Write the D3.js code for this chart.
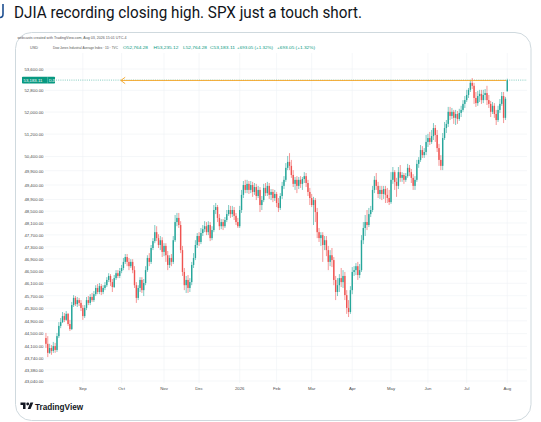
<!DOCTYPE html>
<html>
<head>
<meta charset="utf-8">
<script src="https://cdn.jsdelivr.net/npm/d3@7"></script>
<style>
  html, body { margin: 0; padding: 0; background: #fff; }
  svg { display: block; font-family: "Liberation Sans", Arial, sans-serif; }
</style>
</head>
<body>
<svg id="chart" width="541" height="422"></svg>
<script>
const opens = [
  44360,44180,43900,44050,43960,44110,43990,44420,44740,44860,
  45050,44930,45120,44800,44640,45400,45630,45430,45560,45470,
  45310,45050,45310,45560,45470,45660,45560,45750,45950,45820,
  46010,45820,45950,46040,46210,46340,46140,45980,46270,46430,
  46340,46500,46600,46800,46960,46800,46660,46800,46530,46040,
  45630,45950,46210,45880,46110,46530,46930,46800,47260,47490,
  47790,47590,47360,47520,47130,47330,47020,46700,46930,46800,
  47520,48130,48270,48030,47190,46470,46040,46210,45950,46140,
  46700,46930,47360,47660,47460,47760,47890,47990,47790,48030,
  47590,47860,48540,48640,48270,47990,48130,47990,48200,48400,
  48540,48400,48540,48340,48130,47990,48540,49060,49400,49230,
  49440,49230,49400,49160,49330,49020,49230,48710,48880,49300,
  49120,49370,49060,49160,48950,49090,48780,48610,49020,49370,
  49580,50000,50210,50070,49750,49440,49580,49370,49580,49440,
  49610,49710,49470,49160,48950,48710,48880,48470,47790,47590,
  47690,47360,47520,47190,46800,47020,46860,46210,45820,46040,
  46270,46140,46340,45720,45310,45180,45880,46470,46530,46660,
  46370,46530,47520,47930,48130,48030,48400,48540,49230,49580,
  49370,49090,49230,49090,49260,49060,48950,48810,49580,49850,
  49510,49370,49850,49650,49750,49580,49710,50000,49850,49650,
  49370,49580,50140,50280,50630,50450,50560,50920,51060,50920,
  51130,51420,51170,50700,50280,50070,51060,51420,51570,52010,
  51860,52010,51790,51930,51750,51970,52080,52300,52440,52630,
  52820,53080,52970,52520,52330,52590,52670,52440,52630,52700,
  52440,52300,52010,52230,51930,51710,52080,52300,52590,51790,
  52764.28
];
const highs = [
  44520,44420,44180,44140,44240,44210,44520,44860,44990,45180,
  45150,45210,45150,44930,45500,45720,45690,45660,45630,45560,
  45400,45400,45660,45690,45750,45790,45850,46040,46080,46110,
  46080,46040,46140,46300,46430,46400,46240,46370,46530,46530,
  46600,46700,46930,47060,47060,46930,46890,46890,46660,46140,
  46040,46300,46300,46240,46660,47020,47090,47360,47590,48030,
  47990,47720,47660,47620,47420,47420,47160,47020,47060,47660,
  48370,48440,48440,48160,47330,46600,46340,46370,46270,46800,
  47090,47520,47760,47790,47930,48030,48160,48130,48160,48130,
  47990,48710,48780,48710,48400,48230,48230,48300,48540,48710,
  48680,48680,48640,48440,48270,48680,49230,49540,49580,49580,
  49540,49540,49510,49470,49440,49370,49330,49020,49440,49470,
  49510,49470,49260,49260,49230,49160,48950,49120,49510,49710,
  50170,50420,50520,50280,49920,49680,49710,49680,49710,49680,
  49850,49820,49580,49300,49090,48990,48950,48610,47930,47790,
  47790,47660,47660,47330,47190,47260,46960,46340,46270,46400,
  46600,46530,46470,45880,45560,46010,46630,46660,46760,46800,
  46730,47690,48130,48370,48540,48610,48680,49370,49710,49820,
  49510,49370,49370,49370,49370,49300,49230,49850,50030,49920,
  49650,50030,50100,49850,49820,49820,50140,50100,49960,49780,
  49710,50280,50380,50810,50770,50700,51170,51210,51280,51350,
  51600,51530,51350,50850,50450,51240,51640,51710,52190,52190,
  52150,52080,52080,52040,52120,52230,52440,52590,52820,52890,
  53190,53260,53080,52740,52780,52820,52820,52820,52850,52970,
  52630,52410,52370,52330,52080,52230,52480,52740,52740,52560,
  53235.12
];
const lows = [
  44050,43770,43870,43840,43900,43900,43930,44360,44670,44830,
  44860,44900,44740,44580,44610,45340,45370,45340,45370,45210,
  44930,44990,45240,45400,45400,45500,45500,45690,45750,45750,
  45720,45750,45880,45980,46140,46010,45820,45950,46210,46270,
  46270,46430,46530,46730,46660,46530,46600,46430,45950,45470,
  45560,45820,45790,45690,46040,46470,46660,46730,47190,47420,
  47490,47260,47190,46960,46990,46800,46530,46600,46660,46730,
  47460,47990,47930,47090,46340,45880,45790,45790,45820,46040,
  46600,46860,47260,47330,47390,47660,47790,47690,47690,47490,
  47520,47790,48400,48130,47860,47890,47860,47930,48130,48340,
  48270,48300,48200,48030,47930,47930,48440,48950,49120,49120,
  49090,49120,48990,49060,48880,48950,48470,48540,48810,49020,
  49020,48920,48880,48810,48850,48640,48470,48540,48920,49260,
  49510,49920,49920,49650,49330,49230,49120,49260,49300,49230,
  49470,49330,49020,48710,48640,48030,48130,47590,47460,47330,
  46800,47190,46990,46530,46660,46630,46040,45560,45690,45820,
  45980,45950,45560,45120,45020,45120,45750,46340,46370,46210,
  46270,46470,47390,47660,47860,47960,48300,48470,49120,49230,
  48950,48920,48880,48920,48780,48780,48710,48750,49440,49230,
  48990,49260,49510,49510,49440,49510,49650,49710,49470,49230,
  49230,49510,50000,50210,50350,50350,50450,50740,50810,50850,
  50990,50920,50560,50070,49920,49920,50990,51240,51460,51710,
  51750,51570,51530,51570,51680,51820,52010,52150,52370,52520,
  52740,52850,52300,52190,52230,52370,52300,52330,52440,52260,
  52150,51820,51930,51790,51530,51640,51970,52230,51600,51710,
  52764.28
];
const closes = [
  44180,43900,44050,43960,44110,43990,44420,44740,44860,45050,
  44930,45120,44800,44640,45400,45630,45430,45560,45470,45310,
  45050,45310,45560,45470,45660,45560,45750,45950,45820,46010,
  45820,45950,46040,46210,46340,46140,45980,46270,46430,46340,
  46500,46600,46800,46960,46800,46660,46800,46530,46040,45630,
  45950,46210,45880,46110,46530,46930,46800,47260,47490,47790,
  47590,47360,47520,47130,47330,47020,46700,46930,46800,47520,
  48130,48270,48030,47190,46470,46040,46210,45950,46140,46700,
  46930,47360,47660,47460,47760,47890,47990,47790,48030,47590,
  47860,48540,48640,48270,47990,48130,47990,48200,48400,48540,
  48400,48540,48340,48130,47990,48540,49060,49400,49230,49440,
  49230,49400,49160,49330,49020,49230,48710,48880,49300,49120,
  49370,49060,49160,48950,49090,48780,48610,49020,49370,49580,
  50000,50210,50070,49750,49440,49580,49370,49580,49440,49610,
  49710,49470,49160,48950,48710,48880,48470,47790,47590,47690,
  47360,47520,47190,46800,47020,46860,46210,45820,46040,46270,
  46140,46340,45720,45310,45180,45880,46470,46530,46660,46370,
  46530,47520,47930,48130,48030,48400,48540,49230,49580,49370,
  49090,49230,49090,49260,49060,48950,48810,49580,49850,49510,
  49370,49850,49650,49750,49580,49710,50000,49850,49650,49370,
  49580,50140,50280,50630,50450,50560,50920,51060,50920,51130,
  51420,51170,50700,50280,50070,51060,51420,51570,52010,51860,
  52010,51790,51930,51750,51970,52080,52300,52440,52630,52820,
  53080,52970,52520,52330,52590,52670,52440,52630,52700,52440,
  52300,52010,52230,51930,51710,52080,52300,52590,51790,52490.06,
  53183.11
];

// NYSE closures in the window
const holidays = ["2025-09-01","2025-11-27","2025-12-25","2026-01-01","2026-01-19",
  "2026-02-16","2026-04-03","2026-05-25","2026-06-19","2026-07-03"];

const priceTicks = [53600,52800,52000,51200,50400,49900,49400,48900,48500,48100,47700,
  47300,46900,46500,46100,45700,45300,44900,44500,44100,43740,43380,43040];
const monthLabels = ["Sep","Oct","Nov","Dec","2026","Feb","Mar","Apr","May","Jun","Jul","Aug"];

const lastPrice = 53183.11;
const markedHigh = 53170;
const legendValues = ["O52,764.28","H53,235.12","L52,764.28","C53,183.11","+693.05 (+1.32%)","+693.05 (+1.32%)"];

const upColor = "#26a69a", downColor = "#ef5350";

const svg = d3.select("#chart");

// tweet line
svg.append("path")
  .attr("d", "M3,4 L3,14 Q3,17.5 0,17.5")
  .attr("fill", "none")
  .attr("stroke", "#1d4f91")
  .attr("stroke-width", 1.6);

svg.append("text")
  .attr("x", 14)
  .attr("y", 17.5)
  .attr("font-family", "Roboto, 'Liberation Sans', sans-serif")
  .attr("font-size", 16.5)
  .attr("fill", "#0f1419")
  .attr("textLength", 348)
  .attr("lengthAdjust", "spacingAndGlyphs")
  .text("DJIA recording closing high. SPX just a touch short.");

// card
svg.append("rect")
  .attr("x", 15.5).attr("y", 32.5)
  .attr("width", 515.5).attr("height", 388)
  .attr("rx", 16)
  .attr("fill", "#fff")
  .attr("stroke", "#cfd9de");

// snapshot header
svg.append("text")
  .attr("x", 17.5).attr("y", 38.8)
  .attr("font-size", 3.5).attr("fill", "#555")
  .attr("textLength", 109).attr("lengthAdjust", "spacingAndGlyphs")
  .text("webcasts created with TradingView.com, Aug 03, 2026 15:01 UTC-4");

svg.append("text")
  .attr("x", 30).attr("y", 48.6)
  .attr("font-size", 3.8).attr("fill", "#555")
  .text("USD");

svg.append("text")
  .attr("x", 53).attr("y", 48.6)
  .attr("font-size", 3.1).attr("fill", "#555")
  .text("Dow Jones Industrial Average Index · 1D · TVC");

const legendX = [123, 153.5, 183, 210, 237, 277];
const legendW = [25, 25, 24, 25, 36, 38];
legendValues.forEach((v, i) => {
  svg.append("text")
    .attr("x", legendX[i]).attr("y", 48.6)
    .attr("font-size", 3.8).attr("fill", "#089981")
    .attr("textLength", legendW[i]).attr("lengthAdjust", "spacingAndGlyphs")
    .text(v);
});

// trading days -> band scale
const fmtDay = d3.utcFormat("%Y-%m-%d");
const fmtMonth = d3.utcFormat("%Y-%m");
const tradingDays = d3.utcDays(new Date(Date.UTC(2025, 7, 4)), new Date(Date.UTC(2026, 7, 4)))
  .filter(d => d.getUTCDay() !== 0 && d.getUTCDay() !== 6 && !holidays.includes(fmtDay(d)));

const candles = closes.map((c, i) => ({
  key: tradingDays[i] ? fmtDay(tradingDays[i]) : "d" + i,
  o: opens[i], h: highs[i], l: lows[i], c: c
}));

const monthStarts = [];
tradingDays.forEach((d, i) => {
  if (i > 0 && fmtMonth(d) !== fmtMonth(tradingDays[i - 1])) monthStarts.push(fmtDay(d));
});

const plotLeft = 45, plotRight = 527, plotTop = 53, plotBottom = 383;

const x = d3.scaleBand()
  .domain(candles.map(d => d.key))
  .range([45, 508.2]);

const y = d3.scaleLog()
  .domain([43040, 53600])
  .range([381, 69]);

const cx = k => x(k) + x.bandwidth() / 2;

// grid
const grid = svg.append("g").attr("stroke", "#eef1f5").attr("stroke-width", 0.6);
grid.selectAll("line.h")
  .data(priceTicks)
  .enter()
  .append("line")
  .attr("x1", plotLeft).attr("x2", plotRight)
  .attr("y1", d => y(d)).attr("y2", d => y(d));
grid.selectAll("line.v")
  .data(monthStarts)
  .enter()
  .append("line")
  .attr("x1", d => cx(d)).attr("x2", d => cx(d))
  .attr("y1", plotTop).attr("y2", plotBottom);

// y axis (left price scale)
const yAxis = svg.append("g")
  .attr("transform", "translate(43.5,0)")
  .call(d3.axisLeft(y).tickValues(priceTicks).tickFormat(d3.format(",.2f")).tickSize(0).tickPadding(0));
yAxis.select(".domain").remove();
yAxis.selectAll("text")
  .attr("font-size", 4.3)
  .attr("font-family", "'Liberation Sans', Arial, sans-serif")
  .attr("fill", "#4a4a4a");

// x axis (months)
const xAxis = svg.append("g")
  .attr("transform", "translate(0,387)")
  .call(d3.axisBottom(x).tickValues(monthStarts).tickFormat((d, i) => monthLabels[i]).tickSize(0).tickPadding(0));
xAxis.select(".domain").remove();
xAxis.selectAll("text")
  .attr("font-size", 4.3)
  .attr("font-family", "'Liberation Sans', Arial, sans-serif")
  .attr("fill", "#4a4a4a");

// current price dotted line
svg.append("line")
  .attr("x1", plotLeft).attr("x2", plotRight)
  .attr("y1", y(lastPrice)).attr("y2", y(lastPrice))
  .attr("stroke", "#089981")
  .attr("stroke-width", 0.5)
  .attr("stroke-dasharray", "1,1.2");

// candles
const bars = svg.append("g")
  .selectAll("g")
  .data(candles)
  .enter()
  .append("g")
  .attr("class", "candle");

bars.append("line")
  .attr("x1", d => cx(d.key)).attr("x2", d => cx(d.key))
  .attr("y1", d => y(d.h)).attr("y2", d => y(d.l))
  .attr("stroke", d => d.c >= d.o ? upColor : downColor)
  .attr("stroke-width", 0.6);

bars.append("rect")
  .attr("x", d => cx(d.key) - 0.7)
  .attr("width", 1.4)
  .attr("y", d => y(Math.max(d.o, d.c)))
  .attr("height", d => Math.max(0.5, Math.abs(y(d.o) - y(d.c))))
  .attr("fill", d => d.c >= d.o ? upColor : downColor);

// orange arrow at the prior closing high
const yh = y(markedHigh);
svg.append("line")
  .attr("x1", 120.8).attr("x2", cx(candles[candles.length - 1].key) - 1)
  .attr("y1", yh).attr("y2", yh)
  .attr("stroke", "#f5a524")
  .attr("stroke-width", 0.9);
svg.append("path")
  .attr("d", `M125.2,${yh - 3.2} L120.8,${yh} L125.2,${yh + 3.2}`)
  .attr("fill", "none")
  .attr("stroke", "#f5a524")
  .attr("stroke-width", 0.9);

// last price label on the scale
const yl = y(lastPrice);
svg.append("rect")
  .attr("x", 22).attr("y", yl - 3.4)
  .attr("width", 33).attr("height", 6.8)
  .attr("rx", 0.8)
  .attr("fill", "#089981");
svg.append("line")
  .attr("x1", 47.6).attr("x2", 47.6)
  .attr("y1", yl - 3.4).attr("y2", yl + 3.4)
  .attr("stroke", "#ffffff").attr("stroke-opacity", 0.6).attr("stroke-width", 0.4);
svg.append("text")
  .attr("x", 23.6).attr("y", yl + 1.5)
  .attr("font-size", 4.3).attr("fill", "#fff")
  .text(d3.format(",.2f")(lastPrice));
svg.append("text")
  .attr("x", 49).attr("y", yl + 1.5)
  .attr("font-size", 4).attr("fill", "#fff")
  .text("DJI");

// TradingView mark
const logo = svg.append("g")
  .attr("transform", "translate(20.5,402.6) scale(0.36)")
  .attr("fill", "#131722");
logo.append("path").attr("d", "M14 18H7V7H0V0h14v18zM28 18h-8L27.5 0h8L28 18z");
logo.append("circle").attr("cx", 20).attr("cy", 4).attr("r", 4);

svg.append("text")
  .attr("x", 35).attr("y", 409.6)
  .attr("font-size", 8.2)
  .attr("font-weight", "bold")
  .attr("fill", "#131722")
  .text("TradingView");
</script>
</body>
</html>
